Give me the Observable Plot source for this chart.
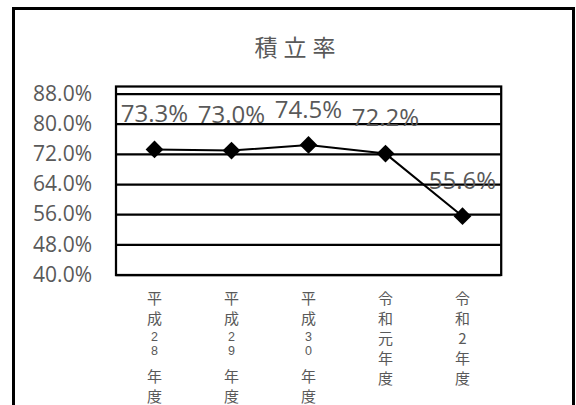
<!DOCTYPE html>
<html>
<head>
<meta charset="utf-8">
<script src="https://cdn.jsdelivr.net/npm/d3@7"></script>
<script src="https://cdn.jsdelivr.net/npm/@observablehq/plot@0.6"></script>
<style>
  html, body { margin: 0; padding: 0; background: #fff; width: 576px; height: 405px; overflow: hidden; }
  #wrap { position: relative; width: 576px; height: 405px; }
  #frame { position: absolute; left: 12px; top: 7px; width: 563px; height: 440px; border: 3px solid #000; box-sizing: border-box; }
  #title { position: absolute; left: 0; top: 31px; width: 596px; text-align: center; font-family: "Noto Sans CJK JP"; font-size: 23px; line-height: 30px; letter-spacing: 6px; color: #595959; }
  #chart { position: absolute; left: 0; top: 0; }
</style>
</head>
<body>
<div id="wrap">
  <div id="frame"></div>
  <div id="title">積立率</div>
  <div id="chart"></div>
</div>
<script>
// Data
const categories = ["平成28年度", "平成29年度", "平成30年度", "令和元年度", "令和2年度"];
const rates = [0.733, 0.730, 0.745, 0.722, 0.556];
const yTicks = [0.40, 0.48, 0.56, 0.64, 0.72, 0.80, 0.88];
const yDomain = [0.40, 0.90];

const data = categories.map((c, i) => ({ year: c, rate: rates[i] }));
const pct = d3.format(".1%");

const chart = Plot.plot({
  width: 576,
  height: 405,
  marginLeft: 115.5,
  marginRight: 75.3,
  marginTop: 86,
  marginBottom: 130.5,
  style: { fontFamily: "Open Sans", fontSize: "21px", color: "#595959", background: "transparent", overflow: "visible" },
  x: { type: "point", domain: categories, padding: 0.5, axis: null },
  y: { domain: yDomain, ticks: yTicks, tickFormat: pct, tickSize: 0, tickPadding: 24, label: null },
  marks: [
    Plot.ruleY(yTicks, { stroke: "#000", strokeWidth: 2.25 }),
    Plot.frame({ stroke: "#000", strokeWidth: 2.25 }),
    Plot.line(data, { x: "year", y: "rate", stroke: "#000", strokeWidth: 2 }),
    Plot.dot(data, { x: "year", y: "rate", symbol: "diamond2", r: 8, fill: "#000", stroke: "none" }),
    Plot.text(data, { x: "year", y: "rate", text: d => pct(d.rate), dy: -35, fontSize: 24, fill: "#595959" }),
    Plot.text(categories, { x: d => d, frameAnchor: "bottom", text: d => d, fontSize: 15, fontFamily: "Noto Sans CJK JP", fill: "#595959" })
  ]
});

// Stack x labels vertically (Excel-style stacked text): the last text mark group
const textGroups = chart.querySelectorAll('g[aria-label="text"]');
const labelGroup = textGroups[textGroups.length - 1];
const isDigit = c => /[0-9０-９]/.test(c);
labelGroup.querySelectorAll("text").forEach(t => {
  const chars = [...t.textContent];
  t.textContent = "";
  t.removeAttribute("dy");
  t.removeAttribute("y");
  chars.forEach((c, i) => {
    const prevDigit = i > 0 && isDigit(chars[i - 1]);
    const nextDigit = isDigit(chars[i + 1] || "");
    const inPair = isDigit(c) && (prevDigit || nextDigit);
    let dy;
    if (i === 0) dy = 29;
    else if (isDigit(c) && prevDigit) dy = 14;
    else if (isDigit(c) && nextDigit) dy = 17;
    else if (i >= 2 && prevDigit && isDigit(chars[i - 2])) dy = 26.5;
    else dy = 20;
    const ts = document.createElementNS("http://www.w3.org/2000/svg", "tspan");
    ts.setAttribute("x", "0");
    ts.setAttribute("dy", dy);
    if (inPair) {
      ts.setAttribute("font-size", "12.5");
      ts.setAttribute("font-family", "Liberation Sans");
    }
    ts.textContent = c;
    t.appendChild(ts);
  });
});

document.getElementById("chart").appendChild(chart);
</script>
</body>
</html>
